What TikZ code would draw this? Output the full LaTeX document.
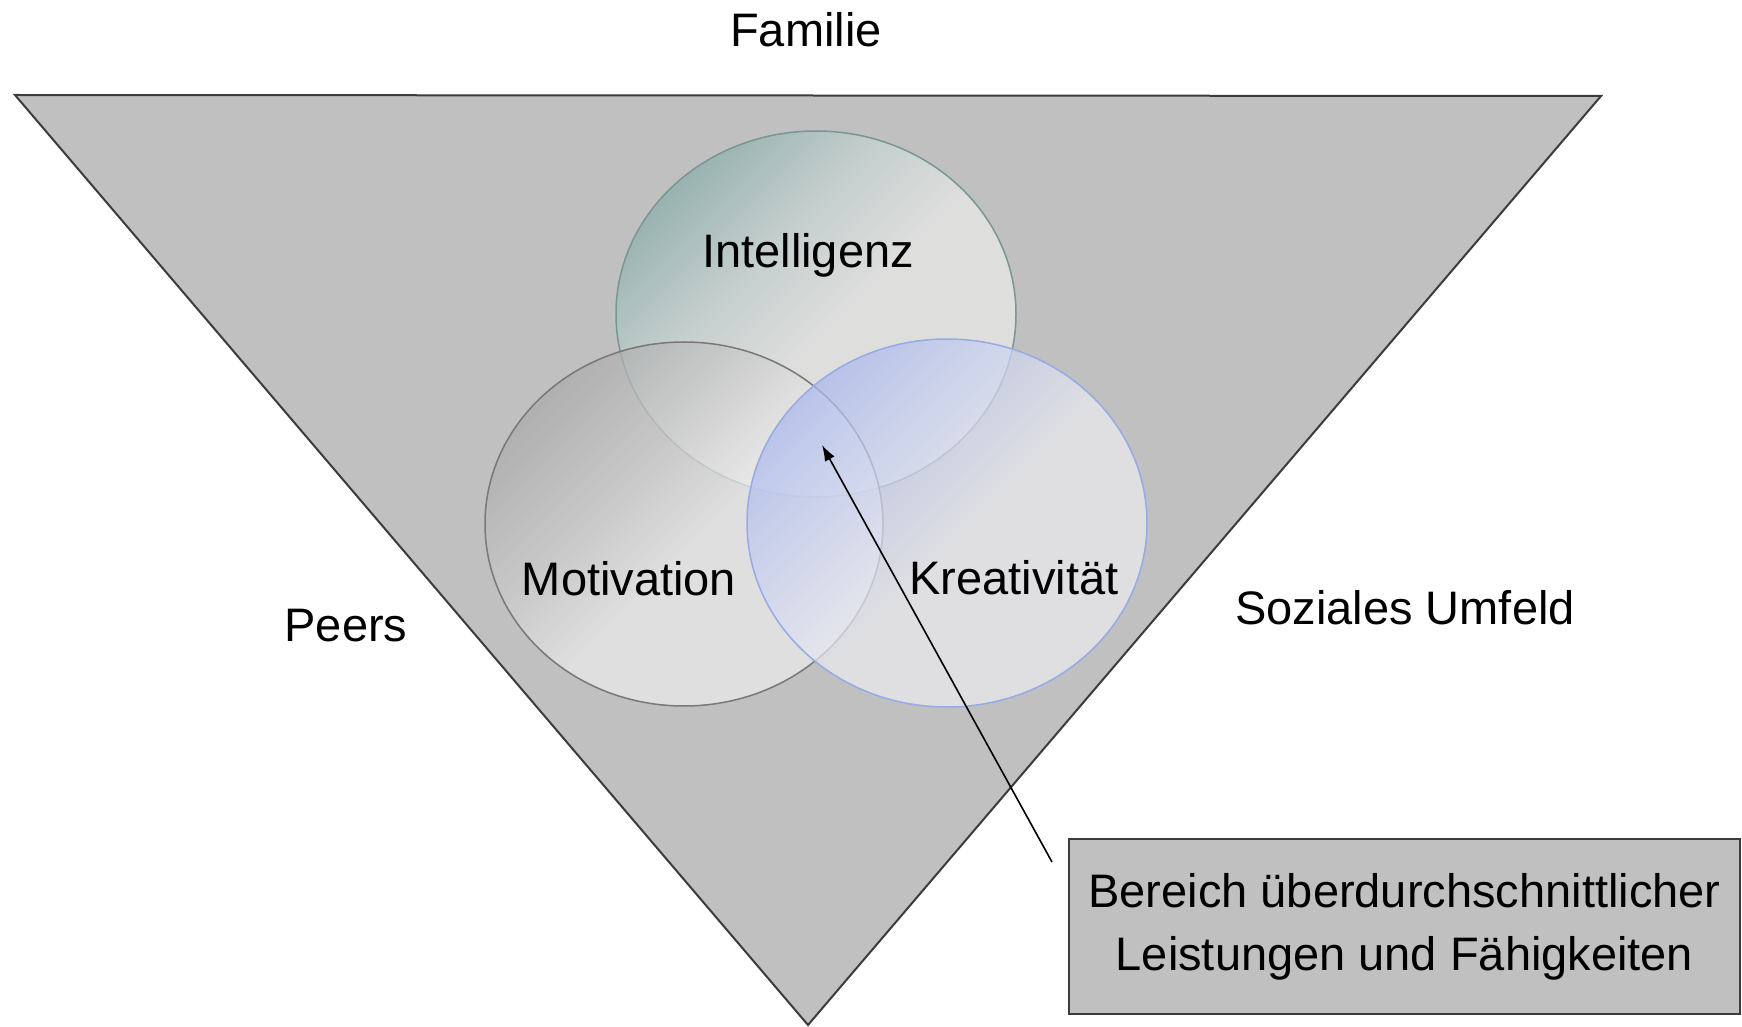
\documentclass[tikz,border=0pt]{standalone}
\usepackage{fontspec}
\setmainfont{Liberation Sans}
\usetikzlibrary{arrows.meta,shapes.geometric}
\definecolor{trifill}{RGB}{192,192,192}
\definecolor{triline}{RGB}{60,60,60}
\definecolor{intdark}{RGB}{135,172,168}
\definecolor{intmid}{RGB}{200,214,212}
\definecolor{intlight}{RGB}{234,235,233}
\definecolor{intline}{RGB}{120,150,148}
\definecolor{motdark}{RGB}{168,168,168}
\definecolor{motmid}{RGB}{202,202,202}
\definecolor{motlight}{RGB}{236,236,236}
\definecolor{motline}{RGB}{120,120,120}
\definecolor{kredark}{RGB}{168,182,238}
\definecolor{kremid}{RGB}{205,212,240}
\definecolor{krelight}{RGB}{236,236,240}
\definecolor{kreline}{RGB}{150,170,230}
\pgfdeclareverticalshading{intshade}{100bp}{color(0bp)=(intlight); color(47bp)=(intlight); color(60bp)=(intmid); color(76bp)=(intdark); color(100bp)=(intdark)}
\pgfdeclareverticalshading{motshade}{100bp}{color(0bp)=(motlight); color(47bp)=(motlight); color(60bp)=(motmid); color(76bp)=(motdark); color(100bp)=(motdark)}
\pgfdeclareverticalshading{kreshade}{100bp}{color(0bp)=(krelight); color(47bp)=(krelight); color(60bp)=(kremid); color(76bp)=(kredark); color(100bp)=(kredark)}
\tikzset{
  tri/.style={draw=triline, fill=trifill, line width=1pt, line join=miter},
  bubble/.style={ellipse, inner sep=0pt, line width=0.75pt, fill opacity=0.72},
  label/.style={anchor=base, inner sep=0pt, text=black},
  infobox/.style={draw=triline, fill=trifill, line width=1pt, align=center, inner sep=0pt},
  pointer/.style={-{Latex[length=8pt,width=5.5pt]}, line width=0.8pt, black}
}
\begin{document}
\begin{tikzpicture}[x=0.5pt,y=-0.5pt, font=\fontsize{23.5}{28.5}\selectfont]
\useasboundingbox (0,0) rectangle (1742,1027);
\fill[white] (0,0) rectangle (1742,1027);
% triangle
\coordinate (tl) at (15,95);
\coordinate (tr) at (1601,96);
\coordinate (ap) at (808,1025);
\draw[tri] (tl) -- (tr) -- (ap) -- cycle;
% circles
\node[bubble, draw=intline, shading=intshade, shading angle=45,
      minimum width=200pt, minimum height=183pt] (intel) at (816,314) {};
\node[bubble, draw=motline, shading=motshade, shading angle=45,
      minimum width=199pt, minimum height=182pt] (motiv) at (684,524) {};
\node[bubble, draw=kreline, shading=kreshade, shading angle=45,
      minimum width=200pt, minimum height=184pt] (kreat) at (947,523) {};
% labels
\node[label] (familie) at (806,47) {Familie};
\node[label] (intelt) at (808,268) {Intelligenz};
\node[label] (motivt) at (629,595) {Motivation};
\node[label] (kreatt) at (1014,594) {Kreativität};
\node[label] (peers) at (346,641) {Peers};
\node[label] (sozial) at (1405,624) {Soziales Umfeld};
% box
\node[infobox, minimum width=335.5pt, minimum height=87.5pt] (box) at (1404.5,926.5)
  {Bereich überdurchschnittlicher\\[3pt]Leistungen und Fähigkeiten};
% arrow
\coordinate (tail) at (1052,862);
\coordinate (tip) at (822,445);
\draw[pointer] (tail) -- (tip);
\end{tikzpicture}
\end{document}
